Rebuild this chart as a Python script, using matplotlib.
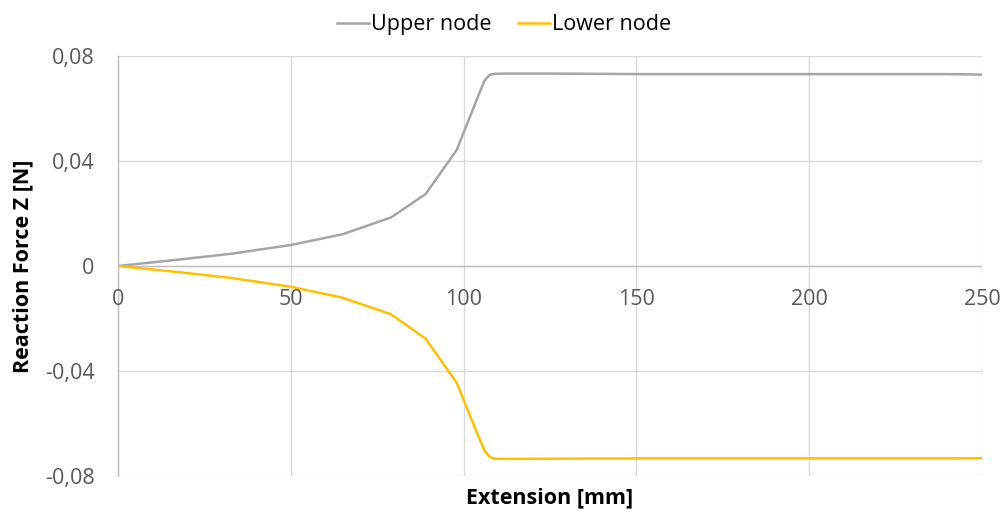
import matplotlib.pyplot as plt
from matplotlib.ticker import FuncFormatter

# extension [mm] and reaction force Z [N] at both nodes
extension = [0, 18, 33, 50, 65, 79, 89, 98, 104, 106, 107.5, 109, 112, 125, 150, 200, 240, 250]
upper_node = [0, 0.0025, 0.0047, 0.0080, 0.0121, 0.0185, 0.0274, 0.0442, 0.0640, 0.0705,
              0.0728, 0.0732, 0.0733, 0.0733, 0.0731, 0.0731, 0.0731, 0.0729]
lower_node = [0, -0.0024, -0.0046, -0.0079, -0.0121, -0.0184, -0.0277, -0.0445, -0.0640, -0.0702,
              -0.0727, -0.0734, -0.0735, -0.0734, -0.0733, -0.0733, -0.0733, -0.0732]

plt.rcParams['font.family'] = ['Open Sans', 'DejaVu Sans']

fig = plt.figure(figsize=(10.08, 5.16), dpi=100)
ax = fig.add_axes([0.1171, 0.0775, 0.8571, 0.814])

ax.plot(extension, upper_node, color='#A5A5A5', lw=1.8, label='Upper node', solid_joinstyle='round')
ax.plot(extension, lower_node, color='#FFC000', lw=1.8, label='Lower node', solid_joinstyle='round')

ax.set_xlim(0, 250)
ax.set_ylim(-0.08, 0.08)
ax.set_xticks([0, 50, 100, 150, 200, 250])
ax.set_yticks([-0.08, -0.04, 0, 0.04, 0.08])

def comma_fmt(v, pos):
    if abs(v) < 1e-12:
        return '0'
    return f'{v:.2f}'.replace('.', ',')

ax.yaxis.set_major_formatter(FuncFormatter(comma_fmt))

# gridlines, axis lines crossing at zero
ax.grid(True, color='#D9D9D9', lw=1.0)
ax.set_axisbelow(True)
for s in ['top', 'right', 'bottom']:
    ax.spines[s].set_visible(False)
ax.spines['left'].set_color('#BFBFBF')
ax.spines['left'].set_linewidth(1.0)
ax.axhline(0, color='#BFBFBF', lw=1.0, zorder=1)

ax.tick_params(axis='both', length=0, labelsize=15.5, labelcolor='#595959')
ax.tick_params(axis='y', pad=17)

# x tick labels sit just under the zero line
ax.set_xticklabels([])
for xv in [0, 50, 100, 150, 200, 250]:
    ax.text(xv, -0.0128, str(xv), ha='center', va='center', fontsize=15.5, color='#595959')

ax.set_xlabel('Extension [mm]', fontsize=15.5, fontweight='bold')
ax.set_ylabel('Reaction Force Z [N]', fontsize=15.5, fontweight='bold')
ax.xaxis.set_label_coords(0.5, -0.027)
ax.yaxis.set_label_coords(-0.098, 0.5)

fig.legend(loc='upper center', bbox_to_anchor=(0.5, 1.01), ncol=2, frameon=False,
           fontsize=15.5, handlelength=1.5, handletextpad=0.1, columnspacing=1.2)

fig.savefig('out.png', dpi=100)
